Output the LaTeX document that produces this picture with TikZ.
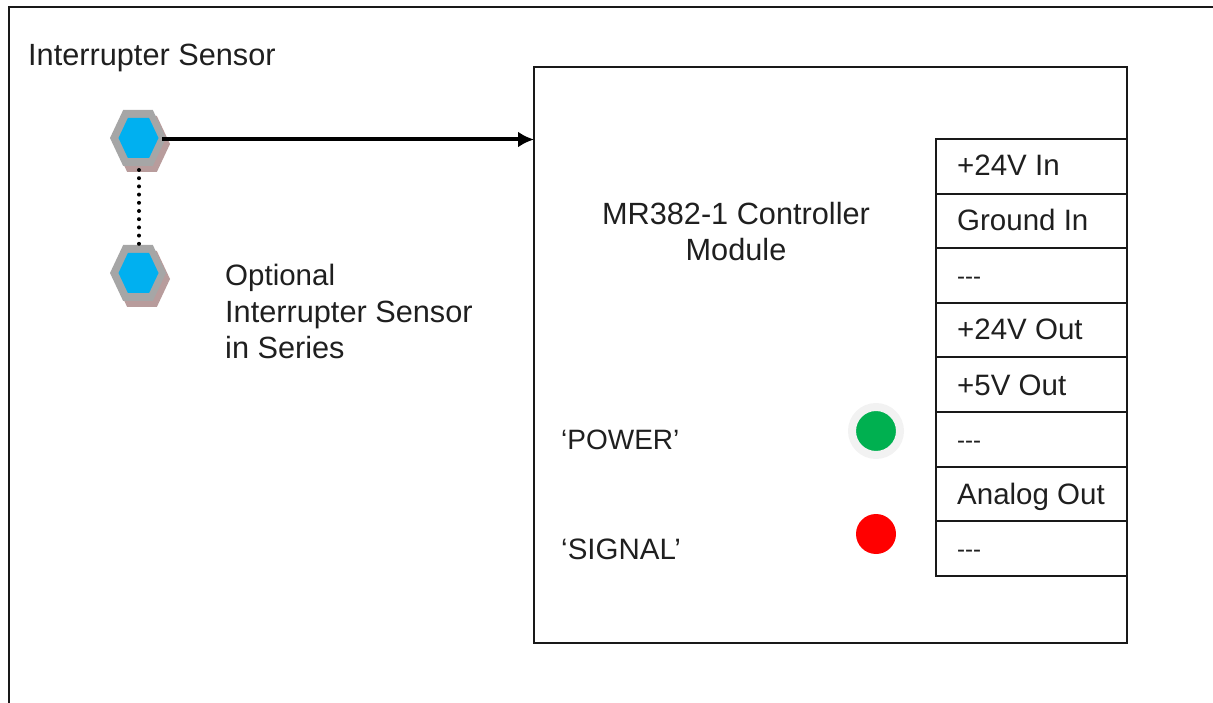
\documentclass[tikz,border=0pt]{standalone}
\usepackage{fontspec}
\setmainfont{Liberation Sans}[Ligatures=NoCommon]
\usetikzlibrary{arrows.meta,calc}
\tikzset{
  lbl/.style={font=\fontsize{29.5}{36}\selectfont,inner sep=0pt,text=black!88},
  lblwide/.style={lbl,font=\fontsize{30.7}{36}\selectfont},
  lblslim/.style={lbl,font=\fontsize{28}{36}\selectfont},
  frameline/.style={draw=black!90,line width=2pt},
  cell/.style={draw=black!90,line width=2pt,minimum width=191pt,minimum height=54.6pt,inner sep=0pt,outer sep=0pt,anchor=north west},
  hexshadow/.style={fill=hexrose},
  hexouter/.style={fill=hexgray},
  hexinner/.style={fill=hexblue},
}
\definecolor{hexrose}{HTML}{B89C9C}
\definecolor{hexgray}{HTML}{A6A6A6}
\definecolor{hexblue}{HTML}{00B0F0}
\definecolor{ledgreen}{HTML}{00B050}
\definecolor{ledring}{HTML}{F2F2F2}
\newcommand{\hexpath}[4]{%
  ($(#1)+(#2-#3,0+#4)$) -- ($(#1)+(#2-#3*0.53,0-#3+#4)$) -- ($(#1)+(#2+#3*0.53,0-#3+#4)$) -- ($(#1)+(#2+#3,0+#4)$) -- ($(#1)+(#2+#3*0.53,#3+#4)$) -- ($(#1)+(#2-#3*0.53,#3+#4)$) -- cycle}
\newcommand{\hexsensor}[3]{%
  \coordinate (#1) at (#2,#3);
  \fill[hexshadow] \hexpath{#1}{4}{28}{6};
  \fill[hexouter] \hexpath{#1}{0}{28}{0};
  \fill[hexinner] \hexpath{#1}{0.5}{20}{0};
}
\newcommand{\dashes}{\fontsize{24}{30}\selectfont{-}{-}{-}}
\begin{document}
\begin{tikzpicture}[x=1pt,y=-1pt]
\useasboundingbox (0,0) rectangle (1213,703);
\coordinate (frameBL) at (9,703);
\coordinate (frameTL) at (9,7);
\coordinate (frameTR) at (1213,7);
\draw[frameline] (frameBL) -- (frameTL) -- (frameTR);
% module
\node[draw=black!90,line width=2pt,minimum width=593pt,minimum height=576pt,inner sep=0pt,outer sep=0pt,anchor=north west] (module) at (534,67) {};
\coordinate (modin) at (534,139.5);
% sensors
\hexsensor{s1}{138}{138}
\hexsensor{s2}{138}{273}
\coordinate (s1r) at (162,139.5);
\draw[line width=4pt,-{Latex[length=16pt,width=16pt]}] (s1r) -- (modin);
\draw[line width=4pt,dash pattern=on 0pt off 8.2pt,line cap=round] ($(s1)+(1,32)$) -- ($(s2)+(1,-28)$);
% table
\foreach \n/\y/\b/\t in {c1/139/176/{+24V In},c2/193.6/231/{Ground In},c3/248.2/284.5/{\dashes},c4/302.8/340/{+24V Out},c5/357.4/395/{+5V Out},c6/412/448/{\dashes},c7/466.6/504/{Analog Out},c8/521.2/557/{\dashes}}{
  \node[cell] (\n) at (936,\y) {};
  \node[lbl,anchor=base west] at (957,\b) {\t};
}
% labels
\node[lblwide,anchor=base west] (t1) at (28,66) {Interrupter Sensor};
\node[lbl,anchor=base west] (t2) at (225,286) {Optional};
\node[lblwide,anchor=base west] (t3) at (225,323) {Interrupter Sensor};
\node[lblwide,anchor=base west] (t4) at (225,359) {in Series};
\node[lblwide,anchor=base] (t5) at (736,225) {MR382-1 Controller};
\node[lblwide,anchor=base] (t6) at (736,261) {Module};
\node[lblslim,anchor=base west] (t7) at (561,449) {‘POWER’};
\node[lbl,anchor=base west] (t8) at (561,559) {‘SIGNAL’};
% LEDs
\node[circle,fill=ledgreen,draw=ledring,line width=8pt,minimum size=48pt,inner sep=0pt] (led1) at (876,431) {};
\node[circle,fill=red,minimum size=40pt,inner sep=0pt] (led2) at (876,534) {};
\end{tikzpicture}
\end{document}
